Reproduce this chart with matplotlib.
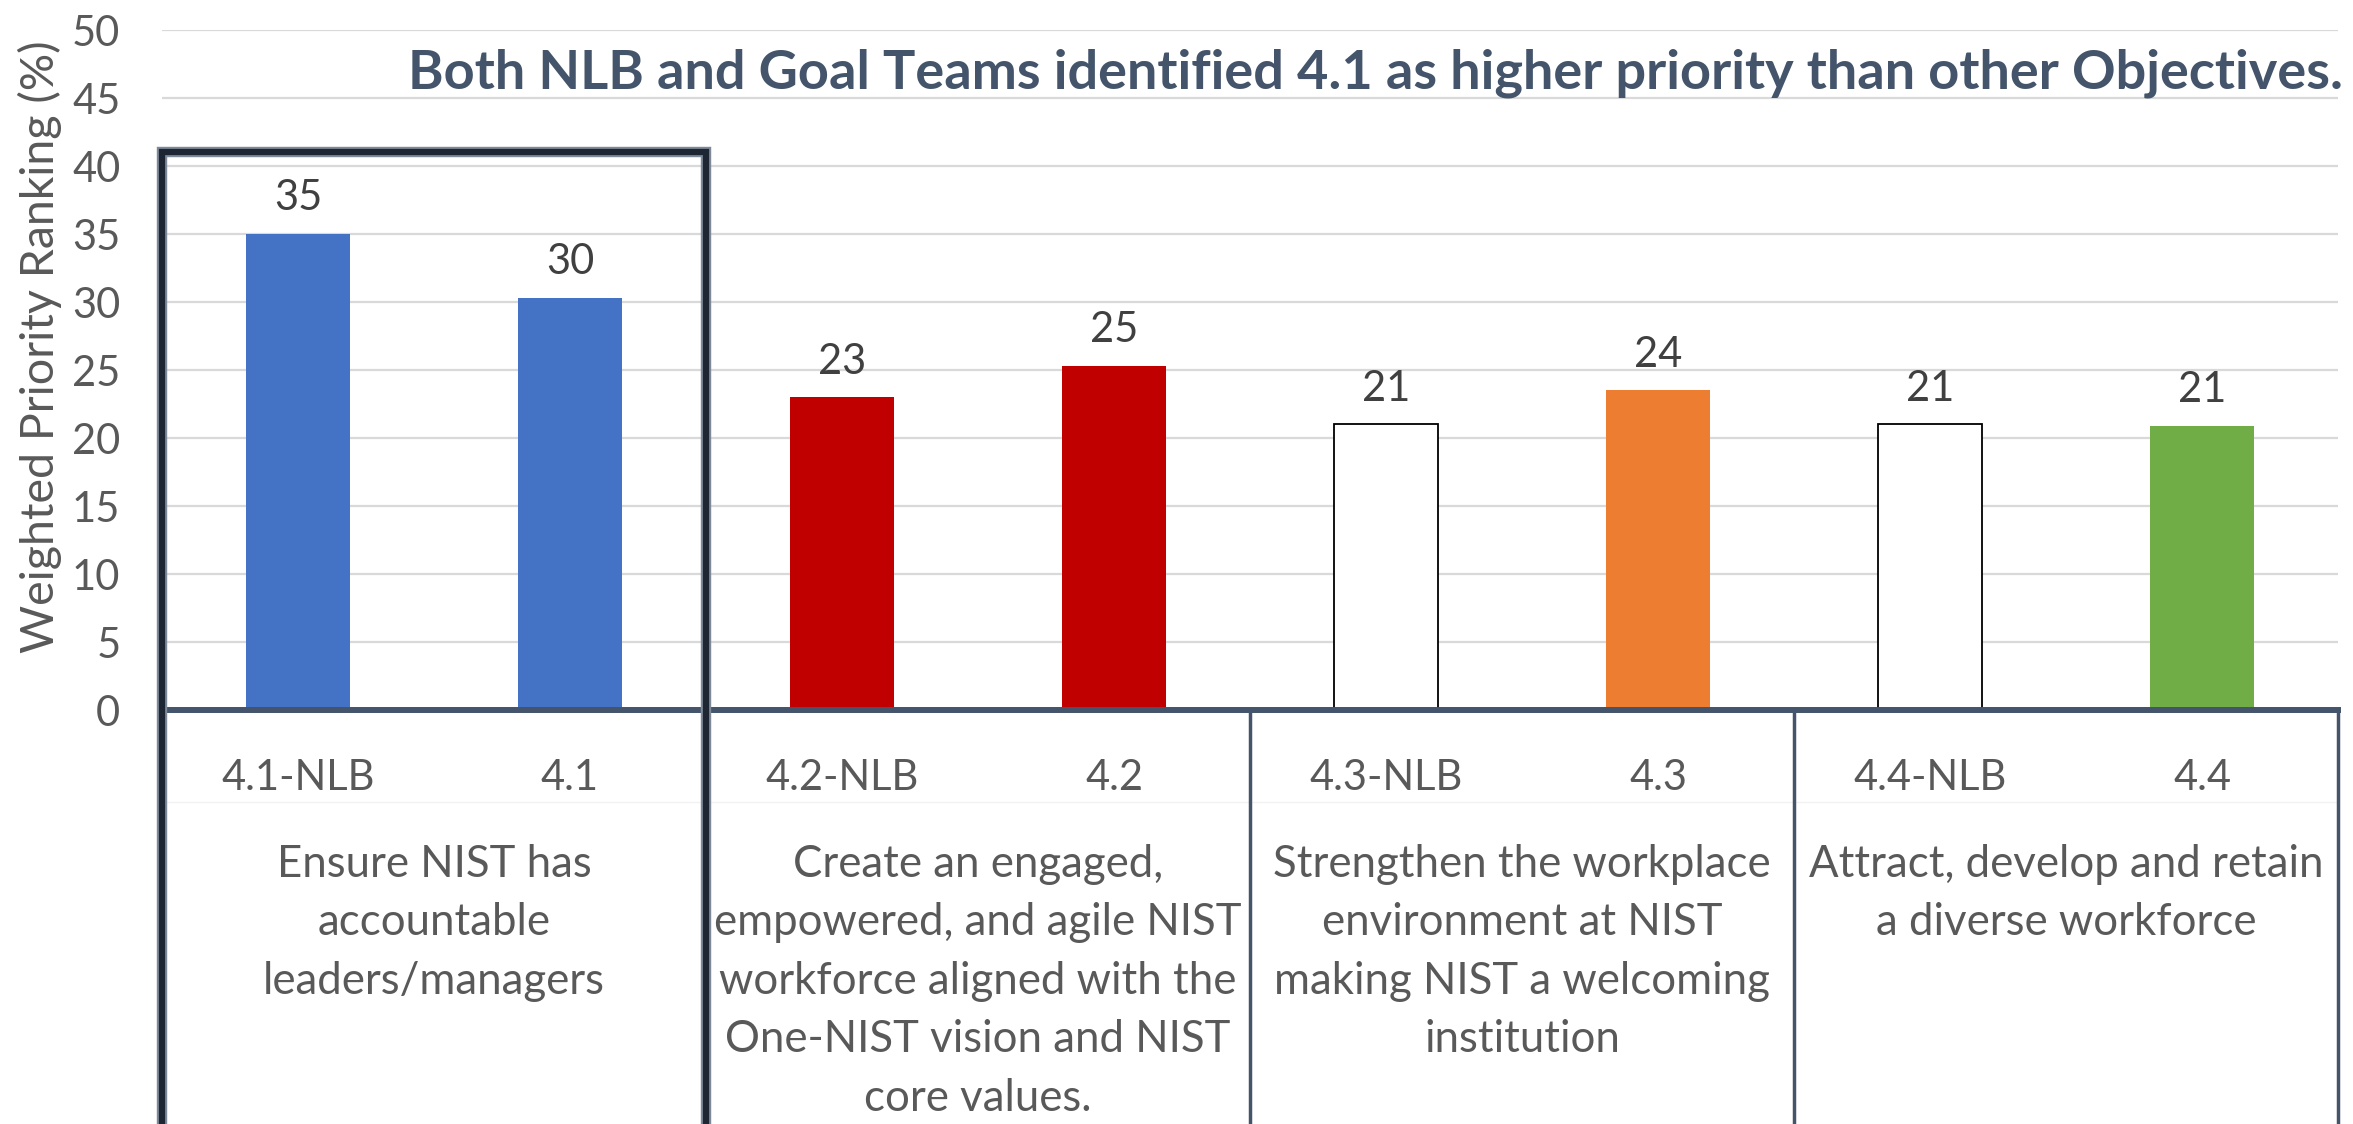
import matplotlib
matplotlib.use('Agg')
import matplotlib.pyplot as plt
from matplotlib.transforms import blended_transform_factory

plt.rcParams['font.family'] = ['Lato', 'DejaVu Sans']

# ---- data ----
categories = ['4.1-NLB', '4.1', '4.2-NLB', '4.2', '4.3-NLB', '4.3', '4.4-NLB', '4.4']
values = [35.0, 30.3, 23.0, 25.3, 21.0, 23.5, 21.0, 20.9]
value_labels = ['35', '30', '23', '25', '21', '24', '21', '21']
bar_colors = ['#4472C4', '#4472C4', '#C00000', '#C00000', '#FFFFFF', '#ED7D31', '#FFFFFF', '#70AD47']
bar_edges = ['none', 'none', 'none', 'none', 'black', 'none', 'black', 'none']
group_labels = [
    "Ensure NIST has\naccountable\nleaders/managers",
    "Create an engaged,\nempowered, and agile NIST\nworkforce aligned with the\nOne-NIST vision and NIST\ncore values.",
    "Strengthen the workplace\nenvironment at NIST\nmaking NIST a welcoming\ninstitution",
    "Attract, develop and retain\na diverse workforce",
]
group_size = 2
yticks = list(range(0, 51, 5))
title = "Both NLB and Goal Teams identified 4.1 as higher priority than other Objectives."
ylabel = "Weighted Priority Ranking (%)"

# ---- figure ----
W, H = 2353, 1124
fig = plt.figure(figsize=(W / 100, H / 100), dpi=100)
ax = fig.add_axes([162 / W, 1 - 710 / H, 2176 / W, 680 / H])

x = list(range(len(categories)))
ax.bar(x, values, width=0.38, color=bar_colors, edgecolor=bar_edges, linewidth=1.3, zorder=2)

ax.set_xlim(-0.5, len(categories) - 0.5)
ax.set_ylim(0, 50)
ax.set_yticks(yticks)
ax.yaxis.grid(True, color='#D9D9D9', linewidth=1.6)
ax.set_axisbelow(True)

for s in ['top', 'right', 'left']:
    ax.spines[s].set_visible(False)
ax.spines['bottom'].set_color('#44546A')
ax.spines['bottom'].set_linewidth(4.3)
ax.spines['bottom'].set_zorder(3)

ax.tick_params(axis='both', length=0, labelsize=30, labelcolor='#595959')
ax.tick_params(axis='y', pad=30)
ax.set_xticks(x)
ax.set_xticklabels(categories)
ax.tick_params(axis='x', pad=57.5)
for lbl in ax.get_xticklabels():
    lbl.set_verticalalignment('baseline')

# value labels
for xi, v, lbl in zip(x, values, value_labels):
    ax.annotate(lbl, (xi, v), xytext=(0, 17), textcoords='offset points',
                ha='center', va='baseline', fontsize=30, color='#404040')

# multi-level category separators
trans = blended_transform_factory(ax.transData, ax.transAxes)
n_groups = len(group_labels)
ax.plot([-0.5, len(categories) - 0.5], [-0.135, -0.135], transform=trans,
        color='#F2F2F2', lw=1, clip_on=False, zorder=1)
for g in range(1, n_groups + 1):
    xs = g * group_size - 0.5
    ax.plot([xs, xs], [0, -0.7], transform=trans, color='#44546A', lw=2.5,
            clip_on=False, zorder=3)
for g, txt in enumerate(group_labels):
    cx = g * group_size + (group_size - 1) / 2
    ax.text(cx, -0.197, txt, transform=trans, ha='center', va='top',
            fontsize=31.5, color='#595959', linespacing=1.53, multialignment='center')

# highlight box around first group
box_top = (710 - 152) / 680
bx = [-0.5, -0.5, 1.5, 1.5]
by = [-0.7, box_top, box_top, -0.7]
ax.plot(bx, by, transform=trans, color='#7F8A99', lw=7.5, clip_on=False,
        zorder=4, solid_joinstyle='miter')
ax.plot(bx, by, transform=trans, color='#1E2633', lw=4.5, clip_on=False,
        zorder=5, solid_joinstyle='miter')

# title
ax.text(1.0023, (710 - 88) / 680, title, transform=ax.transAxes, ha='right',
        va='baseline', fontsize=39, fontweight='bold', color='#44546A')

# y label
ax.set_ylabel(ylabel, fontsize=33.5, color='#595959')
ax.yaxis.set_label_coords((40 - 162) / 2176, 0.535)
ax.yaxis.label.set_verticalalignment('center')

fig.savefig('out.png', dpi=100, facecolor='white')
